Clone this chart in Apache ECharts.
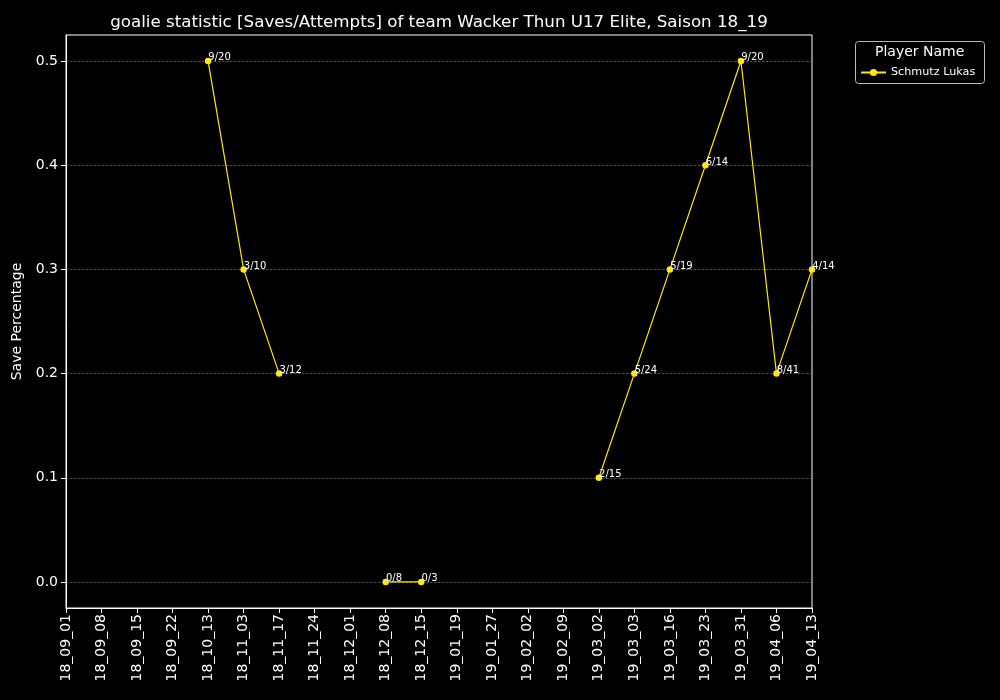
<!DOCTYPE html>
<html>
<head>
<meta charset="utf-8">
<script src="https://cdn.jsdelivr.net/npm/echarts@6/dist/echarts.min.js"></script>
<style>html,body{margin:0;padding:0;background:#000;}#c{width:1000px;height:700px;}</style>
</head>
<body>
<div id="c"></div>
<script>
const categories = ['18_09_01','18_09_08','18_09_15','18_09_22','18_10_13','18_11_03','18_11_17','18_11_24','18_12_01','18_12_08','18_12_15','19_01_19','19_01_27','19_02_02','19_02_09','19_03_02','19_03_03','19_03_16','19_03_23','19_03_31','19_04_06','19_04_13'];
const savePct = [null,null,null,null,0.5,0.3,0.2,null,null,0.0,0.0,null,null,null,null,0.1,0.2,0.3,0.4,0.5,0.2,0.3];
const pointLabels = ['','','','','9/20','3/10','3/12','','','0/8','0/3','','','','','2/15','5/24','5/19','6/14','9/20','8/41','4/14'];
const yTicks = [0.0,0.1,0.2,0.3,0.4,0.5];
const seriesName = 'Schmutz Lukas';
const titleText = 'goalie statistic [Saves/Attempts] of team Wacker Thun U17 Elite, Saison 18_19';

const font = 'DejaVu Sans';
const yellow = '#FFE619';
const chart = echarts.init(document.getElementById('c'), null, {renderer:'canvas'});
chart.setOption({
  backgroundColor: '#000',
  animation: false,
  textStyle: {fontFamily: font},
  title: {
    text: titleText, left: 434, top: 9, textAlign: 'center',
    textStyle: {color:'#fff', fontSize: 16.7, fontWeight: 'normal', fontFamily: font}
  },
  grid: {left: 66, right: 188, top: 35, bottom: 92, show: true, borderColor: '#fff', borderWidth: 1, backgroundColor: '#000'},
  legend: {
    left: 855, top: 62, itemWidth: 25, itemHeight: 9, itemGap: 5,
    textStyle: {color:'#fff', fontSize: 11.2, fontFamily: font},
    data: [seriesName]
  },
  graphic: [
    {type:'rect', left: 855, top: 41, shape:{width:129, height:42, r:3}, style:{fill:'#000', stroke:'#bbb', lineWidth:1}, z: -1},
    {type:'text', left: 875, top: 45, style:{text:'Player Name', fill:'#fff', font:'14px "DejaVu Sans"'}}
  ],
  xAxis: {
    type: 'category', data: categories, boundaryGap: false,
    axisLine: {show: true, onZero: false, lineStyle: {color:'#fff', width: 1}},
    axisTick: {show: true, alignWithLabel: true, length: 5, lineStyle:{color:'#fff'}, interval: 0},
    axisLabel: {rotate: 90, color:'#fff', fontSize: 14, fontFamily: font, interval: 0, margin: 6},
    splitLine: {show: false}
  },
  yAxis: {
    type: 'value', min: -0.025, max: 0.525,
    name: 'Save Percentage', nameLocation: 'middle', nameGap: 38, nameRotate: 90,
    nameTextStyle: {color:'#fff', fontSize: 14, fontFamily: font},
    axisLine: {show: true, lineStyle: {color:'#fff'}},
    axisTick: {show: true, length: 5, lineStyle:{color:'#fff'}, customValues: yTicks},
    axisLabel: {color:'#fff', fontSize: 14, fontFamily: font, margin: 8, customValues: yTicks, formatter: v => v.toFixed(1)},
    splitLine: {show: true, lineStyle: {color:'#666', type:[2.5,1.5], width: 0.8}}
  },
  series: [{
    name: seriesName, type: 'line', data: savePct, connectNulls: false,
    symbol: 'circle', symbolSize: 6.5,
    itemStyle: {color: yellow},
    lineStyle: {color: yellow, width: 1.2},
    label: {
      show: true, position: [3.5, -5], color: '#fff', fontSize: 10, fontFamily: font,
      formatter: p => pointLabels[p.dataIndex]
    }
  }]
});
</script>
</body>
</html>
